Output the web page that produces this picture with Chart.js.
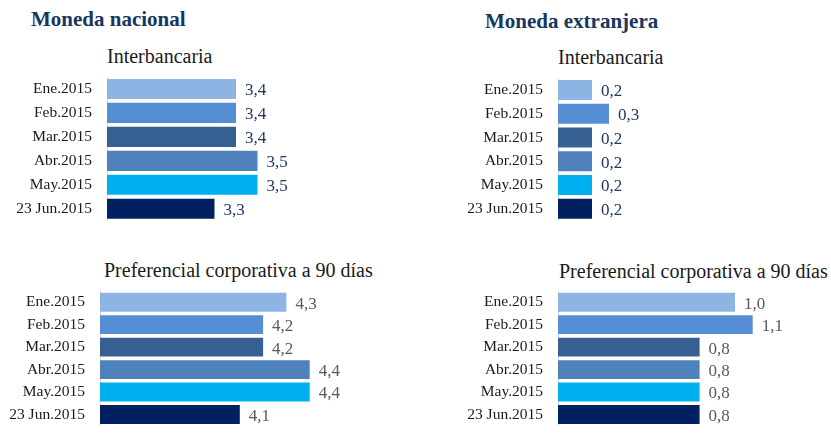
<!DOCTYPE html>
<html>
<head>
<meta charset="utf-8">
<script src="https://cdn.jsdelivr.net/npm/chart.js@4.4.0/dist/chart.umd.min.js"></script>
<style>
  html, body { margin: 0; padding: 0; background: #fff; overflow: hidden; }
  body { width: 831px; height: 440px; position: relative; font-family: "Liberation Serif", "DejaVu Serif", serif; }
  .titulo { position: absolute; font-family: "Liberation Serif", serif; font-weight: bold; font-size: 21px; line-height: 21px; color: #17375e; white-space: nowrap; }
  .sub { position: absolute; font-family: "Liberation Serif", serif; font-size: 20px; line-height: 20px; color: #1a1a1a; white-space: nowrap; }
  canvas { position: absolute; }
</style>
</head>
<body>
<div class="titulo" style="left:31px; top:9px;">Moneda nacional</div>
<div class="titulo" style="left:485px; top:11px;">Moneda extranjera</div>
<div class="sub" style="left:107px; top:46px;">Interbancaria</div>
<div class="sub" style="left:558px; top:47px;">Interbancaria</div>
<div class="sub" style="left:104px; top:260px;">Preferencial corporativa a 90 días</div>
<div class="sub" style="left:559px; top:261px;">Preferencial corporativa a 90 días</div>

<canvas id="mnInter" width="440" height="245" style="left:0; top:0;"></canvas>
<canvas id="meInter" width="391" height="245" style="left:440px; top:0;"></canvas>
<canvas id="mnPref" width="460" height="200" style="left:0; top:250px;"></canvas>
<canvas id="mePref" width="391" height="200" style="left:440px; top:250px;"></canvas>

<script>
// Datos
var meses = ['Ene.2015', 'Feb.2015', 'Mar.2015', 'Abr.2015', 'May.2015', '23 Jun.2015'];
var nacionalInterbancaria = [3.4, 3.4, 3.4, 3.5, 3.5, 3.3];
var nacionalPreferencial = [4.3, 4.2, 4.2, 4.4, 4.4, 4.1];
var extranjeraInterbancaria = [0.2, 0.3, 0.2, 0.2, 0.2, 0.2];
var extranjeraPreferencial = [1.0, 1.1, 0.8, 0.8, 0.8, 0.8];

var coloresBarras = ['#8eb4e3', '#558ed5', '#376092', '#4f81bd', '#00b0f0', '#002060'];

// Plugin para escribir el valor al final de cada barra
var etiquetasValor = {
  id: 'etiquetasValor',
  afterDatasetsDraw: function(chart, args, opts) {
    var ctx = chart.ctx;
    var meta = chart.getDatasetMeta(0);
    var datos = chart.data.datasets[0].data;
    ctx.save();
    ctx.font = opts.size + 'px "Liberation Serif"';
    ctx.fillStyle = opts.color;
    ctx.textAlign = 'left';
    ctx.textBaseline = 'middle';
    meta.data.forEach(function(bar, i) {
      var txt = datos[i].toFixed(1).replace('.', ',');
      ctx.fillText(txt, bar.x + 9, bar.y + 2);
    });
    ctx.restore();
  }
};

function crearGrafico(id, valores, min, max, ejeAncho, padding, colorValor) {
  var ctx = document.getElementById(id).getContext('2d');
  return new Chart(ctx, {
    type: 'bar',
    data: {
      labels: meses,
      datasets: [{
        data: valores,
        backgroundColor: coloresBarras,
        borderWidth: 0,
        categoryPercentage: 1,
        barPercentage: 0.84
      }]
    },
    options: {
      indexAxis: 'y',
      responsive: false,
      animation: false,
      layout: { padding: padding },
      plugins: {
        legend: { display: false },
        tooltip: { enabled: false },
        etiquetasValor: { size: 17, color: colorValor }
      },
      scales: {
        x: { display: false, min: min, max: max },
        y: {
          afterFit: function(scale) { scale.width = ejeAncho; },
          grid: { display: false, drawTicks: false },
          border: { display: true, color: '#d9d9d9', width: 1 },
          ticks: {
            padding: 15,
            color: '#1a1a1a',
            font: { family: 'Liberation Serif', size: 15.5 }
          }
        }
      }
    },
    plugins: [etiquetasValor]
  });
}

crearGrafico('mnInter', nacionalInterbancaria, 2.8, 4.3, 107, { left: 0, top: 77, bottom: 13, right: 10.5 }, '#1f3864');
crearGrafico('meInter', extranjeraInterbancaria, 0, 1.0, 118, { left: 0, top: 78, bottom: 12, right: 103 }, '#1f3864');
crearGrafico('mnPref', nacionalPreferencial, 3.5, 5.0, 100, { left: 0, top: 41, bottom: 5, right: 10.5 }, '#595959');
crearGrafico('mePref', extranjeraPreferencial, 0, 1.5, 118, { left: 0, top: 41, bottom: 5, right: 7.5 }, '#595959');
</script>
</body>
</html>
